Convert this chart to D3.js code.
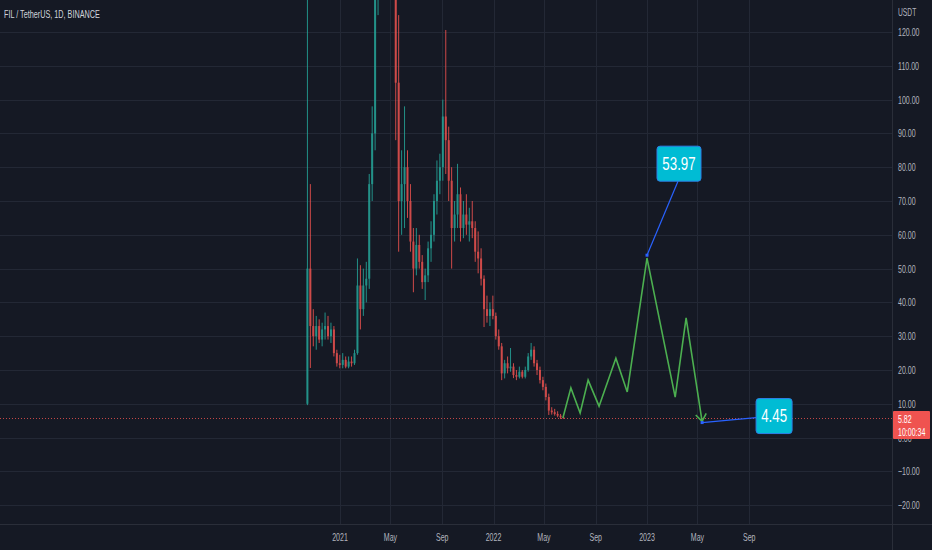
<!DOCTYPE html>
<html>
<head>
<meta charset="utf-8">
<script src="https://cdn.jsdelivr.net/npm/d3@7/dist/d3.min.js"></script>
<style>
  html, body { margin: 0; padding: 0; background: #151924; }
  svg { display: block; }
  text { font-family: "Liberation Sans", Arial, sans-serif; }
</style>
</head>
<body>
<svg id="chart" width="932" height="550"></svg>
<script>
// ---------- DATA ----------
const title = "FIL / TetherUS, 1D, BINANCE";
const currency = "USDT";
const weekStarts = [
  "2020-10-12","2020-10-19","2020-10-26","2020-11-02","2020-11-09","2020-11-16","2020-11-23","2020-11-30",
  "2020-12-07","2020-12-14","2020-12-21","2020-12-28","2021-01-04","2021-01-11","2021-01-18","2021-01-25",
  "2021-02-01","2021-02-08","2021-02-15","2021-02-22","2021-03-01","2021-03-08","2021-03-15","2021-03-22",
  "2021-03-29","2021-04-05","2021-04-12","2021-04-19","2021-04-26","2021-05-03","2021-05-10","2021-05-17",
  "2021-05-24","2021-05-31","2021-06-07","2021-06-14","2021-06-21","2021-06-28","2021-07-05","2021-07-12",
  "2021-07-19","2021-07-26","2021-08-02","2021-08-09","2021-08-16","2021-08-23","2021-08-30","2021-09-06",
  "2021-09-13","2021-09-20","2021-09-27","2021-10-04","2021-10-11","2021-10-18","2021-10-25","2021-11-01",
  "2021-11-08","2021-11-15","2021-11-22","2021-11-29","2021-12-06","2021-12-13","2021-12-20","2021-12-27",
  "2022-01-03","2022-01-10","2022-01-17","2022-01-24","2022-01-31","2022-02-07","2022-02-14","2022-02-21",
  "2022-02-28","2022-03-07","2022-03-14","2022-03-21","2022-03-28","2022-04-04","2022-04-11","2022-04-18",
  "2022-04-25","2022-05-02","2022-05-09","2022-05-16","2022-05-23","2022-05-30","2022-06-06","2022-06-13"
];
const opens  = [10,50,33,30,33,29,32,33, 30,32,25,22,21.5,23,21,22.5, 22,25,45,38,45,47,75,90,
                130,160,170,180,150,160,150,105, 70,75,80,70,58,50,57,52, 46,48,56,60,70,76,80,95,
                88,76,62,66,72,62,66,63, 64,62,55,53,47,38,36,38, 36,30,27,19,22,20.5,21,18.5,
                18,19.5,18,20,24,26,22,20, 17,15,12,8,7.5,7,6.5,6];
const highs  = [190,75,38,36,35,34,37,36, 34,33,26,24.5,25,24,24,24, 26,53,51,50,52,78,98,140,
                237,185,200,185,165,180,160,125, 85,98,85,75,62,62,60,54, 50,58,64,72,82,84,100,120.6,
                92,80,70,81,74,70,72,68, 70,64,61,56,48,42,40,42, 37,32,28,23,24,26.5,22,20,
                21,20,21,25,28,27,23,21, 18,16,13,9,8.5,7.8,7,6.4];
const lows   = [9.6,20.6,27,26,28,27,29,29, 28,24,21,20.5,20.5,20.5,20.5,21, 21.5,24.5,32,36,40,44,70,85,
                125,140,160,140,135,145,88,55, 60,62,65,55,43,48,50,44, 40.7,46,52,58,66,72,76,78,
                70,50,58,62,58,59,60,58, 59,52,48.6,45,32.7,34,33,35, 29,26,17,17.5,19,19.5,17.6,17,
                17.5,17.5,17.5,19.5,23,21,18.5,16, 14,11,6.7,6.8,6.5,6,5.5,5.6];
const closes = [50,33,30,33,29,32,33,30, 32,25,22,21.5,23,21,22.5,22, 25,45,38,45,47,75,90,130,
                160,170,180,150,160,150,105,70, 75,80,70,58,50,57,52,46, 48,56,60,70,76,80,95,88,
                76,62,66,72,62,66,63,64, 62,55,53,47,38,36,38,36, 30,27,19,22,20.5,21,18.5,18,
                19.5,18,20,24,26,22,20,17, 15,12,8,7.5,7,6.5,6,5.82];
const lastPrice = 5.82;
const countdown = "10:00:34";

// projection path (green)
const projDates  = ["2022-06-15","2022-07-04","2022-07-26","2022-08-14","2022-09-09","2022-10-19",
                    "2022-11-15","2023-01-01","2023-03-09","2023-04-04","2023-05-12"];
const projValues = [5.82,14.7,7.3,17,9.3,23.5,13.5,53.1,12,35.4,4.8];

// annotations
const noteDates  = ["2023-01-01","2023-05-12"];
const noteValues = [53.97,4.45];
const noteLabels = ["53.97","4.45"];

const yTicks = [120,110,100,90,80,70,60,50,40,30,20,10,0,-10,-20];
const xTickDates  = ["2021-01-01","2021-05-01","2021-09-01","2022-01-01","2022-05-01","2022-09-01","2023-01-01","2023-05-01","2023-09-01"];
const xTickLabels = ["2021","May","Sep","2022","May","Sep","2023","May","Sep"];

// ---------- LAYOUT ----------
const W = 932, H = 550, plotR = 892, plotB = 524;
const parse = d3.timeParse("%Y-%m-%d");
const x = d3.scaleTime().domain([parse("2021-01-01"), parse("2023-01-01")]).range([340, 647]);
const y = d3.scaleLinear().domain([0, 120]).range([437.6, 32]);

const svg = d3.select("#chart");
svg.append("rect").attr("width", W).attr("height", H).attr("fill", "#151924");

const defs = svg.append("defs");
defs.append("clipPath").attr("id", "plotclip").append("rect")
  .attr("x", 0).attr("y", 0).attr("width", plotR).attr("height", plotB);

const plot = svg.append("g").attr("clip-path", "url(#plotclip)");

// grid
plot.selectAll("line.hg").data(yTicks).join("line")
  .attr("x1", 0).attr("x2", plotR)
  .attr("y1", d => Math.round(y(d)) + 0.5).attr("y2", d => Math.round(y(d)) + 0.5)
  .attr("stroke", "#232835").attr("stroke-width", 1);
plot.selectAll("line.vg").data(xTickDates).join("line")
  .attr("x1", d => Math.round(x(parse(d))) + 0.5).attr("x2", d => Math.round(x(parse(d))) + 0.5)
  .attr("y1", 0).attr("y2", plotB)
  .attr("stroke", "#232835").attr("stroke-width", 1);

// candles
const candles = weekStarts.map((d, i) => ({
  t: d3.timeHour.offset(parse(d), 84), o: opens[i], h: highs[i], l: lows[i], c: closes[i]
}));
const up = "#26a69a", down = "#ef5350";
const cg = plot.append("g").attr("opacity", 0.85);
cg.selectAll("line.wick").data(candles).join("line")
  .attr("x1", d => x(d.t)).attr("x2", d => x(d.t))
  .attr("y1", d => y(d.h)).attr("y2", d => y(d.l))
  .attr("stroke", d => d.c >= d.o ? up : down).attr("stroke-width", 1);
cg.selectAll("rect.body").data(candles).join("rect")
  .attr("x", d => x(d.t) - 1).attr("width", 2)
  .attr("y", d => y(Math.max(d.o, d.c)))
  .attr("height", d => Math.max(1, Math.abs(y(d.o) - y(d.c))))
  .attr("fill", d => d.c >= d.o ? up : down);

// last price dotted line
plot.append("line")
  .attr("x1", 0).attr("x2", plotR)
  .attr("y1", Math.round(y(lastPrice)) + 0.5).attr("y2", Math.round(y(lastPrice)) + 0.5)
  .attr("stroke", "#ef5350").attr("stroke-width", 1).attr("stroke-dasharray", "1,2").attr("opacity", 0.8);

// projection line
const proj = projDates.map((d, i) => [x(parse(d)), y(projValues[i])]);
plot.append("path")
  .attr("d", d3.line()(proj))
  .attr("fill", "none").attr("stroke", "#4caf50").attr("stroke-width", 1.6)
  .attr("stroke-linejoin", "miter");
// arrow head at end
{
  const a = proj[proj.length - 2], b = proj[proj.length - 1];
  const ang = Math.atan2(b[1] - a[1], b[0] - a[0]);
  const L = 9, spread = Math.PI / 5;
  const p1 = [b[0] - L * Math.cos(ang - spread), b[1] - L * Math.sin(ang - spread)];
  const p2 = [b[0] - L * Math.cos(ang + spread), b[1] - L * Math.sin(ang + spread)];
  plot.append("path").attr("d", d3.line()([p1, b, p2]))
    .attr("fill", "none").attr("stroke", "#4caf50").attr("stroke-width", 1.6);
}

// narrow text helper
function ntext(g, px, py, str, size, fill, anchor, sx) {
  return g.append("text")
    .attr("transform", `translate(${px},${py}) scale(${sx || 0.64},1)`)
    .attr("font-size", size).attr("fill", fill)
    .attr("text-anchor", anchor || "start").text(str);
}

// annotations
const notes = noteDates.map((d, i) => ({ px: x(parse(d)), py: y(noteValues[i]), label: noteLabels[i] }));
const boxes = [
  { bx: notes[0].px + 10, by: notes[0].py - 109, bw: 44, bh: 35, ax: notes[0].px + 31, ay: notes[0].py - 74 },
  { bx: notes[1].px + 54, by: notes[1].py - 24, bw: 36, bh: 35, ax: notes[1].px + 54, ay: notes[1].py - 5 }
];
notes.forEach((n, i) => {
  const b = boxes[i];
  plot.append("line").attr("x1", n.px).attr("y1", n.py).attr("x2", b.ax).attr("y2", b.ay)
    .attr("stroke", "#2962ff").attr("stroke-width", 1.2);
  plot.append("rect").attr("x", n.px - 1.5).attr("y", n.py - 1.5).attr("width", 3).attr("height", 3)
    .attr("fill", "#2962ff");
  plot.append("rect").attr("x", b.bx).attr("y", b.by).attr("width", b.bw).attr("height", b.bh)
    .attr("rx", 3).attr("fill", "#00bcd4").attr("stroke", "#2f7fe6").attr("stroke-width", 1);
  ntext(plot, b.bx + b.bw / 2, b.by + b.bh / 2 + 6, n.label, 17.5, "#ffffff", "middle", 0.76);
});

// axis separators
svg.append("line").attr("x1", plotR + 0.5).attr("x2", plotR + 0.5).attr("y1", 0).attr("y2", H)
  .attr("stroke", "#2a2e39");
svg.append("line").attr("x1", 0).attr("x2", W).attr("y1", plotB + 0.5).attr("y2", plotB + 0.5)
  .attr("stroke", "#2a2e39");

// right axis labels
const axisG = svg.append("g");
yTicks.forEach(v => {
  ntext(axisG, 898, y(v) + 4, d3.format(".2f")(v).replace("-", "-"), 11, "#b2b5be", "start", 0.64);
});
ntext(axisG, 898, 16, currency, 10.5, "#b2b5be", "start", 0.64);

// last price label
const ly = y(lastPrice);
svg.append("rect").attr("x", 893).attr("y", ly - 7).attr("width", 37).attr("height", 28)
  .attr("rx", 1).attr("fill", "#ef5350");
ntext(svg, 898, ly + 5, d3.format(".2f")(lastPrice), 11, "#ffffff", "start", 0.64);
ntext(svg, 898, ly + 18, countdown, 11, "#ffffff", "start", 0.64);

// bottom axis labels
xTickDates.forEach((d, i) => {
  ntext(svg, x(parse(d)), 541, xTickLabels[i], 11, "#b2b5be", "middle", 0.64);
});

// title
ntext(svg, 4, 18, title, 11, "#d1d4dc", "start", 0.66);
</script>
</body>
</html>
